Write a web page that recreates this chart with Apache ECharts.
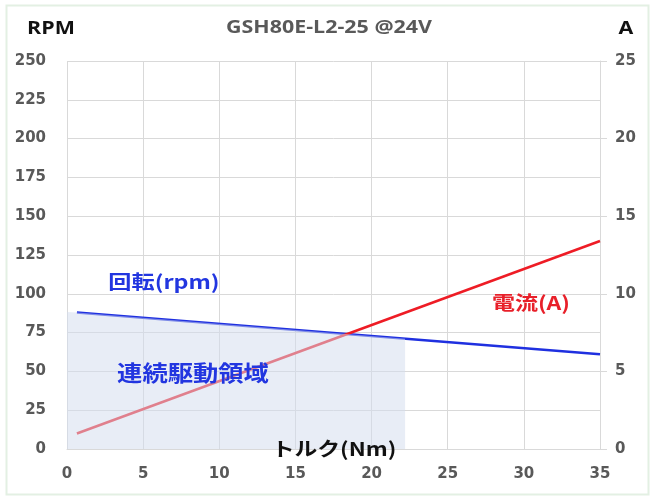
<!DOCTYPE html>
<html><head><meta charset="utf-8">
<script src="https://cdn.jsdelivr.net/npm/echarts@6/dist/echarts.min.js"></script>
<style>html,body{margin:0;padding:0;background:#fff}#c{width:650px;height:497px}</style>
</head><body><div id="c"></div>
<script>
// Data
const torque = [0.65, 35];          // Nm
const rpm = [88, 61];               // RPM (left axis)
const current = [1.0, 13.4];        // A (right axis)
const areaTorque = [0, 0.65, 22.2]; // continuous drive region boundary
const areaRpm = [88.3, 88, 71.1];
const xTicks = [0, 5, 10, 15, 20, 25, 30, 35];
const title = 'GSH80E-L2-25 @24V';

const chart = echarts.init(document.getElementById('c'), null, {renderer: 'canvas'});
const labelFont = {color: '#595959', fontWeight: 'bold', fontSize: 15, fontFamily: 'DejaVu Sans'};
const grid = '#d9d9d9';
function txt(x, y, text, fill, font, sx) {
  return {type: 'text', x: x, y: y, z: 10, scaleX: sx, style: {text: text, fill: fill, font: font, align: 'center', verticalAlign: 'middle'}};
}
chart.setOption({
  animation: false,
  backgroundColor: '#fff',
  grid: {left: 67, right: 50, top: 61, bottom: 48},
  xAxis: {
    type: 'value', min: xTicks[0], max: xTicks[xTicks.length - 1], interval: 5,
    axisLine: {show: true, lineStyle: {color: grid, width: 1}},
    axisTick: {show: false},
    splitLine: {show: true, lineStyle: {color: grid}},
    axisLabel: Object.assign({margin: 18}, labelFont)
  },
  yAxis: [{
    type: 'value', min: 0, max: 250, interval: 25,
    axisLine: {show: false}, axisTick: {show: false},
    splitLine: {show: true, lineStyle: {color: grid}},
    axisLabel: Object.assign({margin: 21}, labelFont)
  }, {
    type: 'value', min: 0, max: 25, interval: 5, position: 'right',
    axisLine: {show: true, lineStyle: {color: grid}},
    axisTick: {show: true, length: 7, lineStyle: {color: grid}},
    splitLine: {show: false},
    axisLabel: Object.assign({margin: 15}, labelFont)
  }],
  series: [{
    type: 'line', yAxisIndex: 0, symbol: 'none', z: 2,
    data: torque.map((t, i) => [t, rpm[i]]),
    lineStyle: {color: '#1f30e0', width: 2.5}
  }, {
    type: 'line', yAxisIndex: 1, symbol: 'none', z: 2,
    data: torque.map((t, i) => [t, current[i]]),
    lineStyle: {color: '#ee1c25', width: 2.5}
  }, {
    type: 'line', yAxisIndex: 0, symbol: 'none', z: 3,
    data: areaTorque.map((t, i) => [t, areaRpm[i]]),
    lineStyle: {opacity: 0, width: 0},
    areaStyle: {color: 'rgba(211,220,238,0.52)', opacity: 1}
  }],
  graphic: [
    {type: 'rect', left: 4, top: 3, shape: {width: 642, height: 489}, style: {fill: 'none', stroke: '#e3f0e3', lineWidth: 2}, z: 0},
    txt(329, 28, title, '#595959', 'bold 17px "Open Sans"', 1.26),
    txt(51, 29, 'RPM', '#111', 'bold 17px "Open Sans"', 1.26),
    txt(626, 29, 'A', '#111', 'bold 17px "Open Sans"', 1.26),
    txt(334, 449, 'トルク(Nm)', '#111', 'bold 19px "Noto Sans CJK JP"', 1.2),
    txt(164, 282, '回転(rpm)', '#2236e0', 'bold 19px "Noto Sans CJK JP"', 1.22),
    txt(193, 373, '連続駆動領域', '#2236e0', 'bold 22px "Noto Sans CJK JP"', 1.15),
    txt(531, 303, '電流(A)', '#e8202a', 'bold 19px "Noto Sans CJK JP"', 1.21)
  ]
});
</script></body></html>
